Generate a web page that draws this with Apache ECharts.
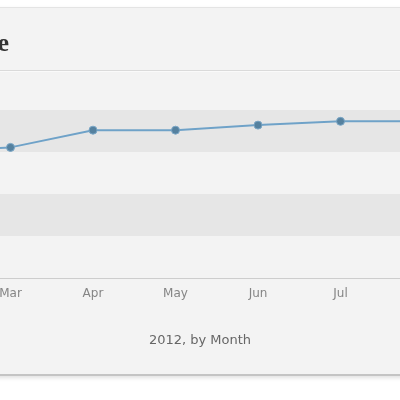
<!DOCTYPE html>
<html>
<head>
<meta charset="utf-8">
<script src="https://cdn.jsdelivr.net/npm/echarts@6/dist/echarts.min.js"></script>
<style>
  html, body { margin: 0; padding: 0; width: 400px; height: 400px; overflow: hidden; background: #ffffff; }
  .card {
    position: absolute; left: -10px; right: -10px; top: 7px; height: 366px;
    background: #f3f3f3;
    border-top: 1px solid #e4e4e4;
    border-bottom: 2px solid #c4c4c4;
    box-shadow: 0 2px 4px rgba(0,0,0,0.12);
  }
  .title-rule {
    position: absolute; left: 0; right: 0; top: 70px; height: 1px;
    background: #dadada; border-bottom: 1px solid #fafafa;
  }
  #chart { position: absolute; left: -200px; top: 0; width: 800px; height: 400px; }
</style>
</head>
<body>
<div class="card"></div>
<div class="title-rule"></div>
<div id="chart"></div>
<script>
// 月份（图表左右被裁切，Feb 和 Aug 在画面外）
const months = ['Feb', 'Mar', 'Apr', 'May', 'Jun', 'Jul', 'Aug'];
const shareValues = [30.2, 31.1, 35.2, 35.2, 36.4, 37.3, 37.3];
const chartTitle = 'Smartphone Market Share';
const axisTitle = '2012, by Month';

const myChart = echarts.init(document.getElementById('chart'));

const option = {
  backgroundColor: 'transparent',
  title: {
    text: axisTitle,
    left: 'center',
    top: 329,
    textStyle: {
      fontFamily: 'DejaVu Sans',
      fontSize: 13,
      fontWeight: 'normal',
      color: '#666666'
    }
  },
  graphic: [
    {
      type: 'text',
      x: 209,
      y: 44,
      style: {
        text: chartTitle,
        align: 'right',
        verticalAlign: 'middle',
        fontFamily: 'Liberation Serif',
        fontSize: 26,
        fontWeight: 700,
        fill: '#333333'
      }
    }
  ],
  grid: { // 让网格对齐到截图中的位置
    left: 128,
    right: 177,
    top: 68,
    bottom: 122
  },
  xAxis: {
    type: 'category',
    data: months,
    boundaryGap: false,
    axisLine: { lineStyle: { color: '#cdcdcd', width: 1 } },
    axisTick: { show: false },
    axisLabel: {
      color: '#858585',
      fontFamily: 'DejaVu Sans',
      fontSize: 12,
      margin: 10
    }
  },
  yAxis: {
    type: 'value',
    min: 0,
    max: 50,
    interval: 10,
    axisLine: { show: false },
    axisTick: { show: false },
    axisLabel: { show: false },
    splitLine: { show: false },
    splitArea: {
      show: true,
      areaStyle: { color: ['rgba(255,255,255,0)', 'rgba(0,0,0,0.05)'] }
    }
  },
  series: [
    {
      type: 'line',
      data: shareValues,
      symbol: 'circle',
      symbolSize: 8,
      lineStyle: { color: '#6fa2c8', width: 2 },
      itemStyle: { color: '#55819f', borderColor: '#7aa6c6', borderWidth: 1 },
      animation: false
    }
  ]
};

myChart.setOption(option);
</script>
</body>
</html>
